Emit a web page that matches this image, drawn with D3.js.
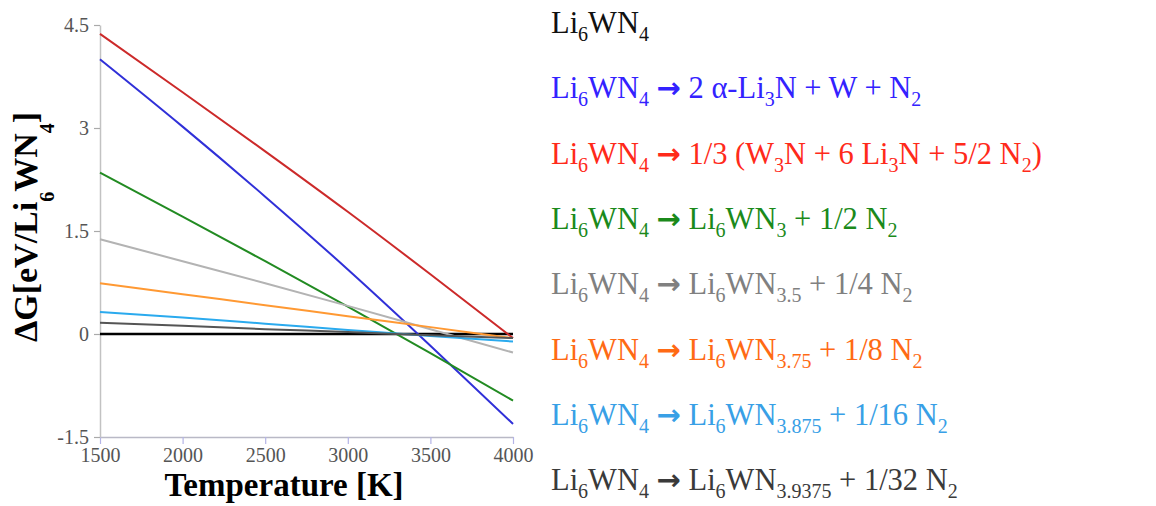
<!DOCTYPE html>
<html>
    <head>
        <meta charset="UTF-8">
        <script src="https://d3js.org/d3.v7.min.js"></script>
        <style>
            body { margin: 0; background: #fff; }
        </style>
    </head>

    <body>

        <svg id="canvas"></svg>

        <script>

            width = 1156;
            height = 506;

            // temperatures (K) and Delta G (eV / Li6WN4)
            temps = [1500, 2000, 2500, 3000, 3500, 4000];
            gBase    = [0, 0, 0, 0, 0, 0];
            gAlpha   = [4.00, 3.02, 2.00, 0.94, -0.17, -1.31];
            gW3N     = [4.37, 3.52, 2.66, 1.78, 0.87, -0.06];
            gN3      = [2.35, 1.71, 1.06, 0.40, -0.28, -0.97];
            gN35     = [1.38, 1.06, 0.74, 0.41, 0.07, -0.27];
            gN375    = [0.74, 0.58, 0.42, 0.26, 0.10, -0.06];
            gN3875   = [0.32, 0.24, 0.15, 0.06, -0.03, -0.11];
            gN39375  = [0.165, 0.12, 0.07, 0.03, -0.02, -0.06];

            xTicks = [1500, 2000, 2500, 3000, 3500, 4000];
            yTicks = [4.5, 3, 1.5, 0, -1.5];

            labels = [
                "Li_6WN_4",
                "Li_6WN_4 → 2 α-Li_3N + W + N_2",
                "Li_6WN_4 → 1/3 (W_3N + 6 Li_3N + 5/2 N_2)",
                "Li_6WN_4 → Li_6WN_3 + 1/2 N_2",
                "Li_6WN_4 → Li_6WN_3.5 + 1/4 N_2",
                "Li_6WN_4 → Li_6WN_3.75 + 1/8 N_2",
                "Li_6WN_4 → Li_6WN_3.875 + 1/16 N_2",
                "Li_6WN_4 → Li_6WN_3.9375 + 1/32 N_2"
            ];
            series = [gBase, gAlpha, gW3N, gN3, gN35, gN375, gN3875, gN39375];
            lineColors = ["#000000", "#3030d8", "#cc2a2a", "#228b22", "#b3b3b3", "#ff9933", "#2aaaee", "#555555"];
            textColors = ["#111111", "#3322ff", "#ff2a1a", "#1b8a1b", "#808080", "#ff6a14", "#38a0e6", "#3a3a3a"];

            canvas = d3.select("#canvas")
                .attr("width", width)
                .attr("height", height);

            xscale = d3.scaleLinear().domain([1500, 4000]).range([100, 513]);
            yscale = d3.scaleLinear().domain([-1.5, 4.5]).range([437, 25]);

            serif = "'Liberation Serif', 'Times New Roman', serif";

            // axes
            xaxis = canvas.append("g")
                .attr("transform", "translate(0,437)")
                .call(d3.axisBottom(xscale).tickValues(xTicks).tickSize(7).tickSizeOuter(0).tickPadding(4).tickFormat(d => String(d)));
            xaxis.select(".domain").attr("stroke", "#b9b9c6").attr("stroke-width", 1.5);
            xaxis.selectAll(".tick line").attr("stroke", "#b4b4e6").attr("stroke-width", 1.2);
            xaxis.selectAll("text").attr("font-family", serif).attr("font-size", 20).attr("fill", "#555");

            yaxis = canvas.append("g")
                .attr("transform", "translate(100,0)")
                .call(d3.axisLeft(yscale).tickValues(yTicks).tickSize(6).tickSizeOuter(0).tickPadding(5).tickFormat(d => String(d)));
            yaxis.select(".domain").attr("stroke", "#c2c2c2").attr("stroke-width", 1.5);
            yaxis.selectAll(".tick line").attr("stroke", "#aaa").attr("stroke-width", 1.2);
            yaxis.selectAll("text").attr("font-family", serif).attr("font-size", 20).attr("fill", "#555");

            // lines
            line = d3.line()
                .x((d, i) => xscale(temps[i]))
                .y(d => yscale(d))
                .curve(d3.curveMonotoneX);

            canvas.append("g").selectAll("path")
                .data(series)
                .join("path")
                .attr("d", d => line(d))
                .attr("fill", "none")
                .attr("stroke", (d, i) => lineColors[i])
                .attr("stroke-width", (d, i) => i == 0 ? 2.4 : 2);

            // axis titles
            canvas.append("text")
                .attr("x", 284).attr("y", 496)
                .attr("text-anchor", "middle")
                .attr("font-family", serif).attr("font-weight", "bold").attr("font-size", 33)
                .text("Temperature [K]");

            ylab = canvas.append("text")
                .attr("transform", "translate(37,227) rotate(-90)")
                .attr("text-anchor", "middle")
                .attr("font-family", serif).attr("font-weight", "bold").attr("font-size", 34);
            ylab.append("tspan").text("ΔG[eV/Li");
            ylab.append("tspan").attr("font-size", 20).attr("dy", 17).text("6");
            ylab.append("tspan").attr("dy", -17).text("WN");
            ylab.append("tspan").attr("font-size", 20).attr("dy", 17).text("4");
            ylab.append("tspan").attr("dy", -17).text("]");

            // legend with sub-scripts
            labels.forEach(function(lab, i) {
                t = canvas.append("text")
                    .attr("x", 551)
                    .attr("y", 33 + i * 65.3)
                    .attr("font-family", serif)
                    .attr("font-size", 30.5)
                    .attr("fill", textColors[i]);
                down = false;
                lab.split(/(_[0-9.]+|→)/).filter(s => s.length).forEach(function(s) {
                    if (s[0] == "_") {
                        t.append("tspan").attr("font-size", 20).attr("dy", down ? 0 : 8).text(s.slice(1));
                        down = true;
                    } else if (s == "→") {
                        t.append("tspan").attr("dy", down ? -8 : 0)
                            .attr("font-family", "'DejaVu Sans', sans-serif").attr("font-weight", "bold").attr("font-size", 29)
                            .text(s);
                        down = false;
                    } else {
                        t.append("tspan").attr("dy", down ? -8 : 0).text(s);
                        down = false;
                    }
                });
            });

        </script>

    </body>

</html>
